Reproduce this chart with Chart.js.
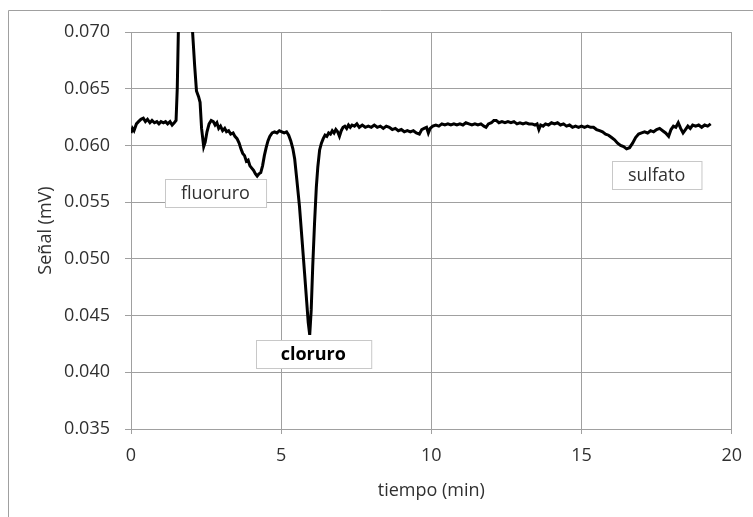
<!DOCTYPE html>
<html>
<head>
<meta charset="utf-8">
<script src="https://cdn.jsdelivr.net/npm/chart.js@4"></script>
<style>
  body { margin: 0; background: #fff; }
  #wrap { width: 753px; height: 517px; position: relative; }
</style>
</head>
<body>
<div id="wrap"><canvas id="myChart"></canvas></div>
<script>
const tiempo = [
  0.00, 0.05, 0.10, 0.18, 0.25, 0.33, 0.41, 0.48, 0.55, 0.63, 0.70, 0.78, 0.86, 0.93,
  1.00, 1.08, 1.15, 1.22, 1.30, 1.37, 1.44, 1.50, 1.54, 1.58, 1.66, 1.76, 1.88, 1.97,
  2.05, 2.12, 2.18, 2.25, 2.30, 2.35, 2.42, 2.47, 2.53, 2.60, 2.67, 2.74, 2.80, 2.86, 2.92, 2.98,
  3.05, 3.12, 3.18, 3.25, 3.32, 3.40, 3.46, 3.53, 3.60, 3.66, 3.72, 3.78, 3.84, 3.90, 3.96,
  4.02, 4.08, 4.14, 4.20, 4.26, 4.32, 4.38, 4.44, 4.50, 4.56, 4.62, 4.70, 4.78, 4.86, 4.94,
  5.02, 5.10, 5.18, 5.25, 5.32, 5.39, 5.45, 5.52, 5.61, 5.70, 5.78, 5.85, 5.90, 5.95,
  6.00, 6.05, 6.11, 6.17, 6.22, 6.28, 6.34, 6.40, 6.46, 6.52, 6.58, 6.64, 6.70, 6.76, 6.82, 6.88, 6.94,
  7.00, 7.06, 7.12, 7.18, 7.24, 7.30, 7.36, 7.44, 7.52, 7.60, 7.70, 7.80, 7.90,
  8.00, 8.10, 8.20, 8.30, 8.40, 8.50, 8.60, 8.70, 8.80, 8.90,
  9.00, 9.10, 9.20, 9.30, 9.40, 9.50, 9.60, 9.68, 9.76, 9.84, 9.90, 9.96,
  10.05, 10.15, 10.25, 10.35, 10.45, 10.55, 10.65, 10.75, 10.85, 10.95,
  11.05, 11.15, 11.25, 11.35, 11.45, 11.55, 11.65, 11.75, 11.82, 11.90,
  12.00, 12.08, 12.16, 12.25, 12.35, 12.45, 12.55, 12.65, 12.75, 12.85, 12.95,
  13.05, 13.15, 13.25, 13.35, 13.45, 13.52, 13.58, 13.64, 13.72, 13.80, 13.90,
  14.00, 14.10, 14.20, 14.30, 14.40, 14.50, 14.60, 14.70, 14.80, 14.90,
  15.00, 15.10, 15.20, 15.30, 15.40, 15.50, 15.60, 15.70, 15.80, 15.90,
  16.00, 16.10, 16.20, 16.30, 16.40, 16.50, 16.60, 16.70, 16.80, 16.90,
  17.00, 17.10, 17.20, 17.30, 17.40, 17.50, 17.60, 17.70, 17.80, 17.90, 17.98,
  18.06, 18.14, 18.22, 18.30, 18.38, 18.46, 18.54, 18.62, 18.70, 18.80, 18.90,
  19.00, 19.10, 19.20, 19.30
];
const senal = [
  0.0611, 0.0615, 0.0613, 0.0619, 0.0621, 0.0623, 0.0624, 0.0621, 0.0623, 0.0620, 0.0622, 0.0620, 0.0621, 0.0619,
  0.0621, 0.0620, 0.0621, 0.0619, 0.0621, 0.0618, 0.0620, 0.0622, 0.0650, 0.0705, 0.0775, 0.0800, 0.0785, 0.0745,
  0.0700, 0.0670, 0.0648, 0.0643, 0.0638, 0.0615, 0.0599, 0.0603, 0.0612, 0.0619, 0.0622, 0.0621, 0.0618, 0.0620, 0.0615, 0.0617,
  0.0613, 0.0615, 0.0612, 0.0613, 0.0610, 0.0611, 0.0608, 0.0606, 0.0602, 0.0597, 0.0593, 0.0591, 0.0586, 0.0587, 0.0582,
  0.0580, 0.0578, 0.0575, 0.0573, 0.0575, 0.0576, 0.0582, 0.0591, 0.0598, 0.0604, 0.0608, 0.0611, 0.0612, 0.0611, 0.0613,
  0.0612, 0.0611, 0.0612, 0.0609, 0.0604, 0.0597, 0.0588, 0.0570, 0.0546, 0.0515, 0.0487, 0.0462, 0.0444, 0.0433,
  0.0455, 0.0493, 0.0531, 0.0563, 0.0581, 0.0596, 0.0602, 0.0606, 0.0609, 0.0608, 0.0611, 0.0610, 0.0613, 0.0611, 0.0614, 0.0612, 0.0608,
  0.0613, 0.0616, 0.0617, 0.0615, 0.0618, 0.0616, 0.0618, 0.0617, 0.0619, 0.0616, 0.0618, 0.0616, 0.0617,
  0.0616, 0.0618, 0.0616, 0.0617, 0.0615, 0.0617, 0.0616, 0.0614, 0.0615, 0.0613,
  0.0614, 0.0612, 0.0613, 0.0612, 0.0613, 0.0611, 0.0610, 0.0614, 0.0615, 0.0616, 0.0611, 0.0615,
  0.0617, 0.0618, 0.0617, 0.0619, 0.0618, 0.0619, 0.0618, 0.0619, 0.0618, 0.0619,
  0.0618, 0.0620, 0.0619, 0.0618, 0.0619, 0.0618, 0.0619, 0.0617, 0.0616, 0.0619,
  0.0620, 0.0622, 0.0622, 0.0620, 0.0621, 0.0620, 0.0621, 0.0620, 0.0621, 0.0619, 0.0620,
  0.0619, 0.0620, 0.0619, 0.0619, 0.0618, 0.0619, 0.0614, 0.0618, 0.0617, 0.0619, 0.0618,
  0.0620, 0.0619, 0.0620, 0.0618, 0.0619, 0.0617, 0.0618, 0.0616, 0.0617, 0.0616,
  0.0617, 0.0616, 0.0617, 0.0616, 0.0616, 0.0614, 0.0613, 0.0612, 0.0610, 0.0609,
  0.0607, 0.0605, 0.0602, 0.0600, 0.0599, 0.0597, 0.0598, 0.0602, 0.0607, 0.0610,
  0.0611, 0.0612, 0.0611, 0.0613, 0.0612, 0.0614, 0.0615, 0.0613, 0.0611, 0.0608, 0.0614,
  0.0617, 0.0616, 0.0620, 0.0615, 0.0611, 0.0614, 0.0617, 0.0615, 0.0618, 0.0617, 0.0618,
  0.0616, 0.0618, 0.0617, 0.0619
];

// etiquetas de los picos (posicion en unidades de los ejes)
const etiquetas = ['fluoruro', 'cloruro', 'sulfato'];
const etiquetaX = [2.81, 6.07, 17.5];
const etiquetaY = [0.0558, 0.0416, 0.0574];
const etiquetaNegrita = [false, true, false];

const gris = '#a0a0a0';
const texto = '#303030';
const fuente = "'Open Sans', sans-serif";
const margenCaja = [16, 25, 16]; // relleno horizontal de cada caja

const marco = {
  id: 'marco',
  beforeDraw(chart) {
    const c = chart.ctx;
    c.save();
    c.fillStyle = '#fff';
    c.fillRect(0, 0, chart.width, chart.height);
    c.strokeStyle = gris;
    c.lineWidth = 1;
    c.beginPath();
    c.moveTo(8.5, chart.height);
    c.lineTo(8.5, 10.5);
    c.lineTo(chart.width, 10.5);
    c.stroke();
    c.restore();
  }
};

const cajas = {
  id: 'cajas',
  afterDatasetsDraw(chart) {
    const c = chart.ctx;
    const sx = chart.scales.x, sy = chart.scales.y;
    c.save();
    etiquetas.forEach((t, i) => {
      c.font = (etiquetaNegrita[i] ? 'bold ' : '') + '18px ' + fuente;
      const w = c.measureText(t).width + 2 * margenCaja[i];
      const h = 28;
      const cx = sx.getPixelForValue(etiquetaX[i]);
      const cy = sy.getPixelForValue(etiquetaY[i]);
      const x0 = Math.round(cx - w / 2) + 0.5, y0 = Math.round(cy - h / 2) + 0.5;
      c.fillStyle = '#fff';
      c.fillRect(x0, y0, w, h);
      c.strokeStyle = '#c8c8c8';
      c.lineWidth = 1;
      c.strokeRect(x0, y0, w, h);
      c.fillStyle = etiquetaNegrita[i] ? '#000' : texto;
      c.textAlign = 'center';
      c.textBaseline = 'middle';
      c.fillText(t, cx, cy + 1);
    });
    c.restore();
  }
};

const ctx = document.getElementById('myChart');

const data = {
  datasets: [{
    data: tiempo.map((t, i) => ({ x: t, y: senal[i] })),
    showLine: true,
    borderColor: '#000',
    borderWidth: 3,
    pointRadius: 0,
    tension: 0,
    clip: 0
  }]
};

const config = {
  type: 'scatter',
  data: data,
  plugins: [marco, cajas],
  options: {
    responsive: true,
    maintainAspectRatio: false,
    animation: false,
    layout: { padding: { top: 32, right: 20, left: 0, bottom: 0 } },
    plugins: {
      legend: { display: false },
      tooltip: { enabled: false }
    },
    scales: {
      x: {
        type: 'linear',
        min: 0,
        max: 20,
        afterFit(s) { s.height = 88; },
        ticks: { stepSize: 5, padding: 11, color: texto, font: { size: 18, family: fuente } },
        grid: { color: gris, tickLength: 5 },
        border: { color: gris },
        title: {
          display: true,
          text: 'tiempo (min)',
          color: texto,
          font: { size: 18, family: fuente },
          padding: { top: 0, bottom: 15 }
        }
      },
      y: {
        min: 0.035,
        max: 0.070,
        afterFit(s) { s.width = 131; },
        ticks: {
          stepSize: 0.005,
          padding: 15,
          color: texto,
          font: { size: 18, family: fuente },
          callback: v => v.toFixed(3)
        },
        grid: { color: gris, tickLength: 6 },
        border: { color: gris },
        title: {
          display: true,
          text: 'Señal (mV)',
          color: texto,
          font: { size: 18, family: fuente },
          padding: { top: 35, bottom: 0 }
        }
      }
    }
  }
};

const myChart = new Chart(ctx, config);
</script>
</body>
</html>
